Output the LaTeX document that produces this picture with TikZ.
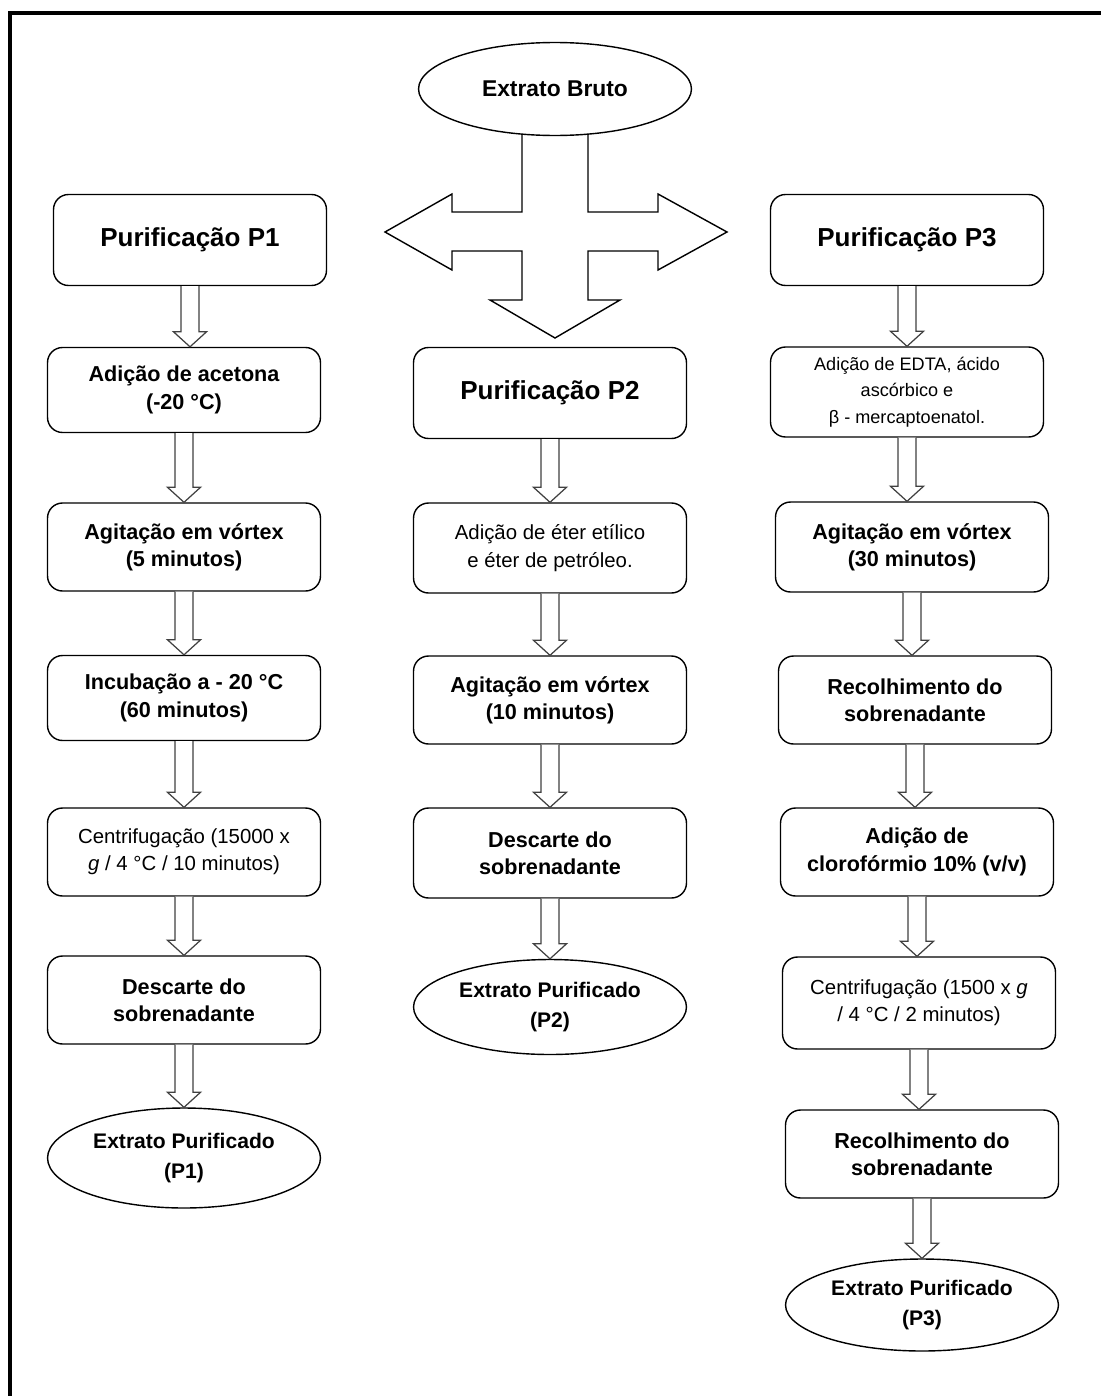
\documentclass[tikz,border=0pt]{standalone}
\usepackage{fontspec}
\setmainfont{Liberation Sans}
\usetikzlibrary{shapes.geometric, calc, backgrounds}

% hollow block arrow from the bottom of one node to the top of the next
\newcommand{\hollowarrow}[2]{%
  \draw[hollow] let \p1 = (#1.south), \p2 = (#2.north) in
    (\x1-0.18cm,\y1) -- (\x1-0.18cm,\y2+0.3cm) -- (\x1-0.33cm,\y2+0.3cm)
    -- (\x1,\y2) -- (\x1+0.33cm,\y2+0.3cm) -- (\x1+0.18cm,\y2+0.3cm)
    -- (\x1+0.18cm,\y1);}

\begin{document}
\begin{tikzpicture}[
            x = 0.02cm, y = -0.02cm, % one unit = one pixel of the scan
            semithick % line style
        ]

        \tikzstyle{box}=[
            draw = black,
            line width = 0.8pt,
            rounded corners = 0.3cm,
            fill = white,
            minimum width = 5.46cm,
            minimum height = 1.76cm,
            align = center,
            font = \bfseries\fontsize{12.3}{15.5}\selectfont
        ]
        \tikzstyle{headbox}=[box, minimum height = 1.82cm,
            font = \bfseries\fontsize{14.8}{17}\selectfont]
        \tikzstyle{lightbox}=[box, font = \fontsize{11.6}{15.5}\selectfont]
        \tikzstyle{term}=[
            ellipse,
            draw = black,
            line width = 0.8pt,
            fill = white,
            inner sep = 0pt,
            minimum width = 5.46cm,
            minimum height = 1.9cm,
            align = center,
            font = \bfseries\fontsize{12}{17}\selectfont
        ]
        \tikzstyle{hollow}=[draw = black!75, line width = 0.7pt, fill = white]

        \useasboundingbox (0,0) rectangle (1101,1396);
        \draw[line width = 0.08cm] (10,1396) -- (10,13) -- (1101,13);

        \node[term, minimum height = 1.86cm, font = \bfseries\fontsize{13}{15}\selectfont] (bruto) at (555,89) {Extrato Bruto};

        % left branch
        \node[headbox] (p1) at (190,240) {Purificação P1};
        \node[box, minimum height = 1.7cm] (acetona) at (184,390) {Adição de acetona\\(-20 °C)};
        \node[box] (vortexA) at (184,547) {Agitação em vórtex\\(5 minutos)};
        \node[box, minimum height = 1.7cm] (incub) at (184,698) {Incubação a - 20 °C\\(60 minutos)};
        \node[lightbox] (centA) at (184,852) {Centrifugação (15000 x\\\textit{g} / 4 °C / 10 minutos)};
        \node[box] (descA) at (184,1000) {Descarte do\\sobrenadante};
        \node[term, minimum height = 2cm] (fimA) at (184,1158) {Extrato Purificado\\(P1)};

        % middle branch
        \node[headbox] (p2) at (550,393) {Purificação P2};
        \node[lightbox, minimum height = 1.8cm] (eter) at (550,548) {Adição de éter etílico\\e éter de petróleo.};
        \node[box] (vortexB) at (550,700) {Agitação em vórtex\\(10 minutos)};
        \node[box, minimum height = 1.8cm] (descB) at (550,853) {Descarte do\\sobrenadante};
        \node[term] (fimB) at (550,1007) {Extrato Purificado\\(P2)};

        % right branch
        \node[headbox] (p3) at (907,240) {Purificação P3};
        \node[lightbox, minimum height = 1.8cm, font = \fontsize{10.3}{15}\selectfont] (edta) at (907,392) {Adição de EDTA, ácido\\ascórbico e\\β - mercaptoenatol.};
        \node[box, minimum height = 1.8cm] (vortexC) at (912,547) {Agitação em vórtex\\(30 minutos)};
        \node[box] (recolA) at (915,700) {Recolhimento do\\sobrenadante};
        \node[box] (cloro) at (917,852) {Adição de\\clorofórmio 10\% (v/v)};
        \node[lightbox, minimum height = 1.84cm] (centC) at (919,1003) {Centrifugação (1500 x \textit{g}\\/ 4 °C / 2 minutos)};
        \node[box] (recolB) at (922,1154) {Recolhimento do\\sobrenadante};
        \node[term, minimum height = 1.84cm] (fimC) at (922,1305) {Extrato Purificado\\(P3)};

        % three-way arrow under the crude extract
        \begin{scope}[on background layer]
            \draw[line width = 0.8pt, fill = white]
                (522,110) -- (522,212) -- (452,212) -- (452,194) -- (385,232)
                -- (452,270) -- (452,251) -- (522,251) -- (522,300) -- (490,300)
                -- (555,338) -- (620,300) -- (588,300) -- (588,251) -- (658,251)
                -- (658,270) -- (727,232) -- (658,194) -- (658,212) -- (588,212)
                -- (588,110);
        \end{scope}

        \hollowarrow{p1}{acetona}
        \hollowarrow{acetona}{vortexA}
        \hollowarrow{vortexA}{incub}
        \hollowarrow{incub}{centA}
        \hollowarrow{centA}{descA}
        \hollowarrow{descA}{fimA}

        \hollowarrow{p2}{eter}
        \hollowarrow{eter}{vortexB}
        \hollowarrow{vortexB}{descB}
        \hollowarrow{descB}{fimB}

        \hollowarrow{p3}{edta}
        \hollowarrow{edta}{vortexC}
        \hollowarrow{vortexC}{recolA}
        \hollowarrow{recolA}{cloro}
        \hollowarrow{cloro}{centC}
        \hollowarrow{centC}{recolB}
        \hollowarrow{recolB}{fimC}

  \end{tikzpicture}
\end{document}
